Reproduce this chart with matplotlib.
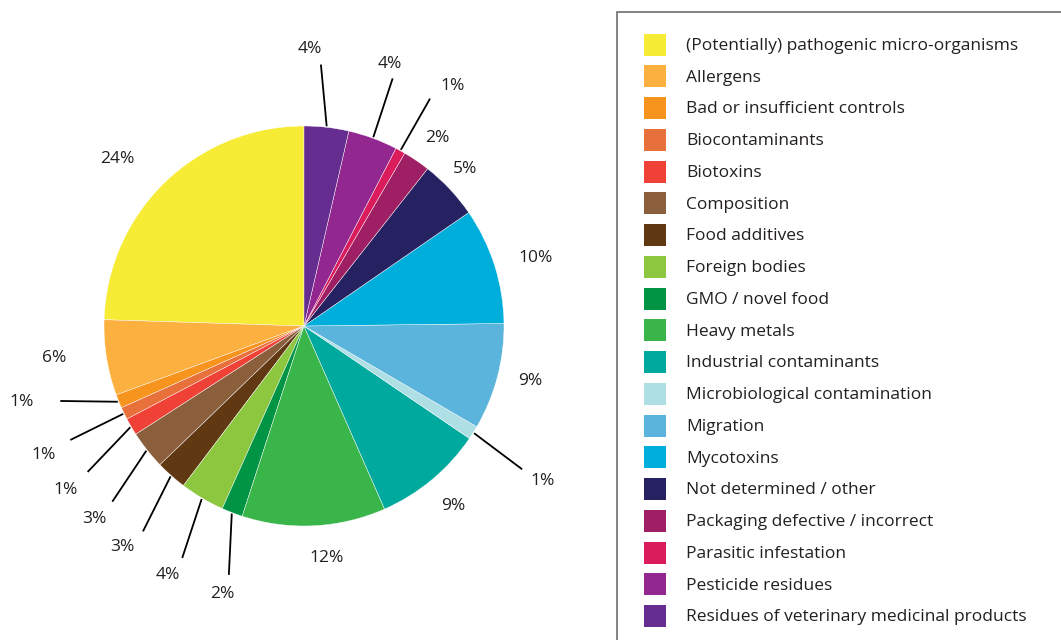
import matplotlib
matplotlib.use("Agg")
import matplotlib.pyplot as plt
import numpy as np
from matplotlib.patches import Rectangle

# ---------------- data ----------------
categories = [
    "(Potentially) pathogenic micro-organisms",
    "Allergens",
    "Bad or insufficient controls",
    "Biocontaminants",
    "Biotoxins",
    "Composition",
    "Food additives",
    "Foreign bodies",
    "GMO / novel food",
    "Heavy metals",
    "Industrial contaminants",
    "Microbiological contamination",
    "Migration",
    "Mycotoxins",
    "Not determined / other",
    "Packaging defective / incorrect",
    "Parasitic infestation",
    "Pesticide residues",
    "Residues of veterinary medicinal products",
]
values = [24.5, 6.1, 1.1, 1.0, 1.4, 3.1, 2.5, 3.6, 1.7, 11.6,
          8.9, 1.1, 8.6, 9.4, 4.8, 2.2, 0.8, 4.0, 3.6]
pct_labels = ["24%", "6%", "1%", "1%", "1%", "3%", "3%", "4%", "2%", "12%",
              "9%", "1%", "9%", "10%", "5%", "2%", "1%", "4%", "4%"]
colors = ["#F6EB35", "#FBB040", "#F7941D", "#E8703A", "#EF4136", "#8B5E3C",
          "#603913", "#8DC63F", "#009444", "#39B54A", "#00A99D", "#AEDFE5",
          "#5BB4DC", "#00AEDB", "#262262", "#9E1F63", "#DA1C5C", "#92278F",
          "#662D91"]

# ---------------- layout ----------------
W, H = 1061, 640
CX, CY, R = 304, H - 326, 200
# label placement: (label radius, label angle, leader end radius, leader end angle)
label_layout = [
    (251, 138, None, None), (252, 187, None, None),
    (292, 194.9, 255, 197.1), (290, 206.2, 260, 206), (289, 214.3, 261, 214),
    (284, 222.4, 260, 222.5), (285, 230.4, 261, 231.9), (283, 241.3, 262, 242.3),
    (279, 253, 260, 253.2), (232, 275.7, None, None), (233, 309.8, None, None),
    (284, 327.2, 261, 326.7), (233, 346.6, None, None), (242, 16.6, None, None),
    (226, 44.6, None, None), (231, 54.9, None, None),
    (283, 58.4, 260, 61), (277, 71.9, 263, 70.3), (278, 88.8, 262, 86.3),
]

FONT = "Open Sans"
FS = 12.5
DY = -1.2  # small baseline correction for va='center'

fig = plt.figure(figsize=(W / 100, H / 100), dpi=100)
ax = fig.add_axes([0, 0, 1, 1])
wedges, _ = ax.pie(values, colors=colors, startangle=90, counterclock=True,
                   center=(CX, CY), radius=R, frame=True,
                   wedgeprops=dict(edgecolor="white", linewidth=0.3))
ax.set_xlim(0, W)
ax.set_ylim(0, H)
ax.set_aspect("equal")
ax.axis("off")

def pol(r, a):
    t = np.deg2rad(a)
    return CX + r * np.cos(t), CY + r * np.sin(t)

for w, lab, (lr, la, er, ea) in zip(wedges, pct_labels, label_layout):
    mid = (w.theta1 + w.theta2) / 2
    if er is not None:
        x0, y0 = pol(201, mid)
        x1, y1 = pol(er, ea)
        ax.plot([x0, x1], [y0, y1], color="black", lw=1.3, solid_capstyle="butt")
    x, y = pol(lr, la)
    ax.text(x, y + DY, lab, ha="center", va="center", fontsize=FS, family=FONT,
            color="#231F20")

# legend box
ax.add_patch(Rectangle((617, -10), 600, H - 12 + 10, facecolor="none",
                       edgecolor="#6D6E71", lw=1.2))
for i, (cat, col) in enumerate(zip(categories, colors)):
    yc = H - (44.7 + i * 31.75)
    ax.add_patch(Rectangle((644, yc - 11), 22, 22, facecolor=col, edgecolor="none"))
    ax.text(686, yc + DY, cat, ha="left", va="center", fontsize=FS, family=FONT,
            color="#231F20")

fig.savefig("out.png", dpi=100)
